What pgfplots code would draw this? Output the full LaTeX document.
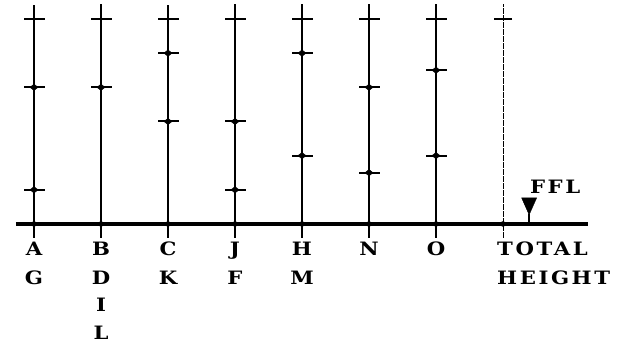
\documentclass[border=0pt]{standalone}
\usepackage{fontspec}
\setmainfont{DejaVu Serif}
\newfontfamily\labfont{DejaVu Serif}[FakeStretch=1.15]
\newfontfamily\spacedfont{DejaVu Serif}[FakeStretch=1.15, LetterSpace=14]
\usepackage{pgfplots}
\pgfplotsset{compat=1.18}
\tikzset{lab/.style={font=\labfont\bfseries\fontsize{18.5}{20}\selectfont, inner sep=0pt, text=black},
         slab/.style={font=\spacedfont\bfseries\fontsize{18.5}{20}\selectfont, inner sep=0pt, text=black}}
\begin{document}
\begin{tikzpicture}
\begin{axis}[
  scale only axis, width=623bp, height=347bp,
  xmin=-0.5075, xmax=8.791, ymin=-3.6, ymax=6.555,
  hide axis, clip=false,
  unbounded coords=jump,
]
% vertical staffs
\addplot[black, line width=1.6bp] coordinates {
 (0,-0.4) (0,6.4) (0,nan)
 (1,-0.4) (1,6.45) (1,nan)
 (2,-0.4) (2,6.4) (2,nan)
 (3,-0.4) (3,6.45) (3,nan)
 (4,-0.4) (4,6.45) (4,nan)
 (5,-0.4) (5,6.45) (5,nan)
 (6,-0.4) (6,6.45)
};
\addplot[black, line width=0.9bp, dash pattern=on 6bp off 1bp] coordinates {(7,-0.4) (7,6.45)};
% baseline
\addplot[black, line width=3.2bp] coordinates {(-0.27,0) (8.27,0)};
% tick marks
\addplot[only marks, mark=-, mark size=10.5bp, mark options={line width=2bp}] coordinates {
 (0,6) (0,4) (0,1)
 (1,6) (1,4)
 (2,6) (2,5) (2,3)
 (3,6) (3,3) (3,1)
 (4,6) (4,5) (4,2)
 (5,6) (5,4) (5,1.5)
 (6,6) (6,4.5) (6,2)
};
\addplot[only marks, mark=diamond*, mark size=3.2bp, mark options={xscale=1.7}] coordinates {
 (0,4) (1,4) (2,5) (2,3) (3,3) (3,1) (4,5) (4,2) (5,4) (6,4.5) (0,1) (5,1.5) (6,2)
};
\addplot[only marks, mark=-, mark size=9bp, mark options={line width=1.2bp}] coordinates {(7,6)};
% baseline dots
\addplot[only marks, mark=*, mark size=2.5bp] coordinates {(0,0) (1,0) (2,0) (3,0) (4,0) (5,0) (6,0) (7,0)};
% FFL marker
\addplot[black, line width=1.6bp] coordinates {(7.39,0) (7.39,0.3)};
\addplot[only marks, mark=triangle*, mark size=8.7bp, mark options={rotate=180, yscale=1.3}] coordinates {(7.39,0.60)};
\node[slab, anchor=base west] at (axis cs:7.40,0.90) {FFL};
% labels
\node[lab, anchor=base] at (axis cs:0,-0.91) {A};
\node[lab, anchor=base] at (axis cs:0,-1.785) {G};
\node[lab, anchor=base] at (axis cs:1,-0.91) {B};
\node[lab, anchor=base] at (axis cs:1,-1.785) {D};
\node[lab, anchor=base] at (axis cs:1,-2.575) {I};
\node[lab, anchor=base] at (axis cs:1,-3.39) {L};
\node[lab, anchor=base] at (axis cs:2,-0.91) {C};
\node[lab, anchor=base] at (axis cs:2,-1.785) {K};
\node[lab, anchor=base] at (axis cs:3,-0.91) {J};
\node[lab, anchor=base] at (axis cs:3,-1.785) {F};
\node[lab, anchor=base] at (axis cs:4,-0.91) {H};
\node[lab, anchor=base] at (axis cs:4,-1.785) {M};
\node[lab, anchor=base] at (axis cs:5,-0.91) {N};
\node[lab, anchor=base] at (axis cs:6,-0.91) {O};
\node[slab, anchor=base west] at (axis cs:6.91,-0.91) {TOTAL};
\node[slab, anchor=base west] at (axis cs:6.91,-1.785) {HEIGHT};
\path (rel axis cs:0,0) rectangle (rel axis cs:1,1);
\end{axis}
\end{tikzpicture}
\end{document}
